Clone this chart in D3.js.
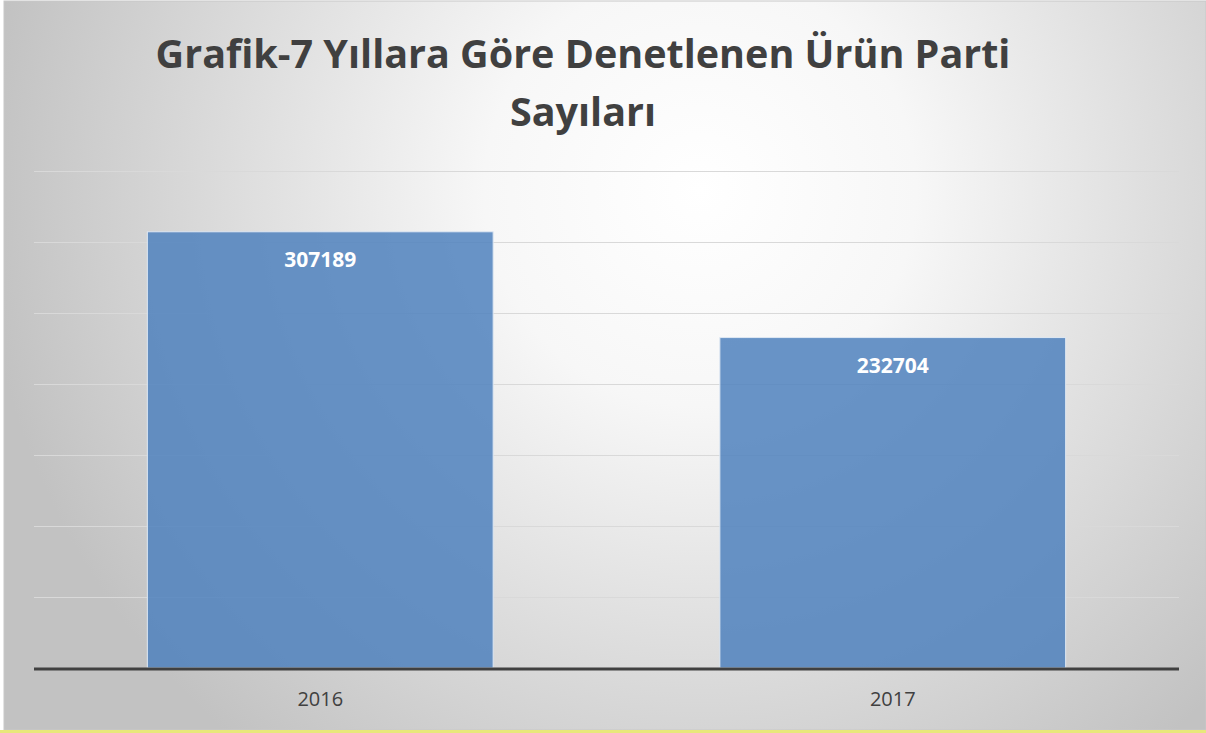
<!DOCTYPE html>
<html>
<head>
<meta charset="utf-8">
<script src="https://cdn.jsdelivr.net/npm/d3@7"></script>
<style>
  body { margin: 0; background: #fff; }
  svg { display: block; }
</style>
</head>
<body>
<script>
const years = ["2016", "2017"];
const counts = [307189, 232704];
const titleLines = ["Grafik-7 Yıllara Göre Denetlenen Ürün Parti", "Sayıları"];

const width = 1206, height = 733;
const margin = { top: 171, right: 27, bottom: 65, left: 34 };

const svg = d3.select("body").append("svg")
    .attr("width", width)
    .attr("height", height);

const defs = svg.append("defs");
const grad = defs.append("radialGradient")
    .attr("id", "bg")
    .attr("gradientUnits", "userSpaceOnUse")
    .attr("cx", 700).attr("cy", 190).attr("r", 720);
grad.append("stop").attr("offset", "0%").attr("stop-color", "#ffffff");
grad.append("stop").attr("offset", "30%").attr("stop-color", "#f7f7f7");
grad.append("stop").attr("offset", "100%").attr("stop-color", "#c2c2c2");

svg.append("rect")
    .attr("x", 4).attr("y", 1)
    .attr("width", width - 4).attr("height", 729)
    .attr("fill", "url(#bg)")
    .attr("stroke", "#c8c8c8");

svg.append("line")
    .attr("x1", 0).attr("x2", width)
    .attr("y1", 731.5).attr("y2", 731.5)
    .attr("stroke", "#e8e87a").attr("stroke-width", 3);

const x = d3.scaleBand()
    .domain(years)
    .range([margin.left, width - margin.right])
    .paddingInner(0.396)
    .paddingOuter(0.198);

const y = d3.scaleLinear()
    .domain([0, 350000])
    .range([height - margin.bottom, margin.top]);

// gridlines
svg.append("g")
    .attr("transform", `translate(${margin.left},0)`)
    .call(d3.axisLeft(y).ticks(7).tickSize(-(width - margin.left - margin.right)).tickFormat(""))
    .call(g => g.select(".domain").remove())
    .call(g => g.selectAll(".tick line").attr("stroke", "#d9d9d9").attr("stroke-width", 1.2));

// bars
svg.append("g").selectAll("rect")
    .data(years)
    .join("rect")
    .attr("x", d => x(d))
    .attr("y", (d, i) => y(counts[i]))
    .attr("width", x.bandwidth())
    .attr("height", (d, i) => y(0) - y(counts[i]))
    .attr("fill", "#4f81bd")
    .attr("fill-opacity", 0.85)
    .attr("stroke", "#dfe8f3")
    .attr("stroke-width", 1);

// value labels
svg.append("g").selectAll("text")
    .data(years)
    .join("text")
    .attr("x", d => x(d) + x.bandwidth() / 2)
    .attr("y", (d, i) => y(counts[i]) + 35)
    .attr("text-anchor", "middle")
    .attr("fill", "#ffffff")
    .style("font", "bold 21px 'Open Sans', sans-serif")
    .text((d, i) => counts[i]);

// baseline
svg.append("line")
    .attr("x1", margin.left).attr("x2", width - margin.right)
    .attr("y1", y(0) + 1).attr("y2", y(0) + 1)
    .attr("stroke", "#404040").attr("stroke-width", 3);

// x axis labels
const xAxis = svg.append("g")
    .attr("transform", `translate(0,${y(0)})`)
    .call(d3.axisBottom(x).tickSize(0).tickPadding(24))
    .call(g => g.select(".domain").remove());
xAxis.selectAll("text")
    .attr("fill", "#404040")
    .style("font", "20px 'Open Sans', sans-serif");

// title
svg.append("g")
    .selectAll("text")
    .data(titleLines)
    .join("text")
    .attr("x", 583)
    .attr("y", (d, i) => 68 + i * 58)
    .attr("text-anchor", "middle")
    .attr("fill", "#404040")
    .style("font", "bold 39.5px 'Open Sans', sans-serif")
    .text(d => d);
</script>
</body>
</html>
